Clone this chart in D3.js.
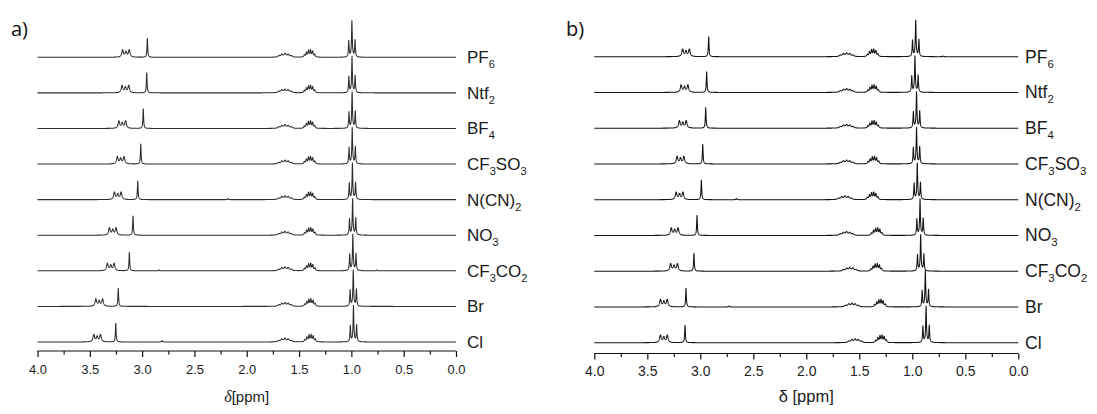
<!DOCTYPE html>
<html>
<head>
<meta charset="utf-8">
<script src="https://cdn.jsdelivr.net/npm/d3@7"></script>
<style>
  body { margin: 0; background: #fff; }
  svg { display: block; }
</style>
</head>
<body>
<svg id="chart" width="1097" height="414"></svg>
<script>
// Anion of each ionic liquid, top trace first
const anions = ["PF6", "Ntf2", "BF4", "CF3SO3", "N(CN)2", "NO3", "CF3CO2", "Br", "Cl"];
const xTicks = [4.0, 3.5, 3.0, 2.5, 2.0, 1.5, 1.0, 0.5, 0.0];
const xMinorTicks = [3.75, 3.25, 2.75, 2.25, 1.75, 1.25, 0.75, 0.25];

// Panel a) chemical shifts (ppm) of each signal group, per anion
const aNCH3 = [2.950, 2.956, 2.989, 3.013, 3.042, 3.087, 3.122, 3.228, 3.252];
const aNCH2 = [3.155, 3.160, 3.190, 3.205, 3.233, 3.281, 3.300, 3.410, 3.430];
const aCH2b = [1.634, 1.634, 1.634, 1.634, 1.634, 1.634, 1.634, 1.634, 1.634];
const aCH2c = [1.400, 1.400, 1.400, 1.400, 1.400, 1.398, 1.398, 1.396, 1.395];
const aCH3  = [0.995, 0.994, 0.993, 0.992, 0.990, 0.988, 0.986, 0.982, 0.980];
const aNCH3Height = [1.00, 1.05, 1.03, 1.05, 0.98, 1.01, 0.96, 0.95, 0.98];
// small extra signals: [trace, ppm, height]
const aMinor = [[4, 2.180, 0.07], [6, 2.840, 0.05], [8, 2.810, 0.08], [6, 0.760, 0.04]];

// Panel b) chemical shifts (ppm)
const bNCH3 = [2.921, 2.940, 2.949, 2.977, 2.990, 3.031, 3.060, 3.135, 3.144];
const bNCH2 = [3.135, 3.149, 3.165, 3.187, 3.196, 3.242, 3.248, 3.344, 3.344];
const bCH2b = [1.620, 1.620, 1.620, 1.620, 1.635, 1.620, 1.590, 1.570, 1.540];
const bCH2c = [1.374, 1.370, 1.370, 1.367, 1.374, 1.336, 1.340, 1.305, 1.295];
const bCH3  = [0.968, 0.975, 0.960, 0.960, 0.953, 0.927, 0.921, 0.877, 0.870];
const bNCH3Height = [1.05, 1.08, 1.08, 1.03, 1.03, 1.06, 0.94, 0.98, 0.92];
const bMinor = [[4, 2.660, 0.07], [7, 2.730, 0.05], [0, 0.710, 0.04]];

// Multiplet line patterns: [offset ppm, relative height, half width]
const NCH2_LINES = [[-0.032, 0.38, 0.009], [0.000, 0.28, 0.009], [0.032, 0.38, 0.009]];
const CH2B_LINES = [[-0.060, 0.07, 0.011], [-0.030, 0.14, 0.011], [0.000, 0.17, 0.011],
                    [0.030, 0.14, 0.011], [0.060, 0.07, 0.011]];
const CH2C_LINES = [[-0.050, 0.13, 0.006], [-0.030, 0.29, 0.006], [-0.010, 0.35, 0.006],
                    [0.010, 0.33, 0.006], [0.030, 0.23, 0.006], [0.050, 0.11, 0.006]];
const CH3_LINES  = [[-0.030, 0.88, 0.004], [0.000, 1.80, 0.004], [0.030, 0.84, 0.004],
                    [0.000, 0.10, 0.014]];

const panels = [
  { tag: "a)", tagX: 11, x0: 37.5, x1: 456, yTop: 57.3, yBot: 342, axisY: 351, unit: 19,
    nch3: aNCH3, nch2: aNCH2, ch2b: aCH2b, ch2c: aCH2c, ch3: aCH3, h: aNCH3Height, minor: aMinor,
    stroke: "#2e2e2e", tickFont: 13, tickPad: 8, labelX: 467, labelFont: 17, titleFont: 15,
    italicDelta: true },
  { tag: "b)", tagX: 566, x0: 594.3, x1: 1018.3, yTop: 56.7, yBot: 342.7, axisY: 353.5, unit: 19,
    nch3: bNCH3, nch2: bNCH2, ch2b: bCH2b, ch2c: bCH2c, ch3: bCH3, h: bNCH3Height, minor: bMinor,
    stroke: "#141414", tickFont: 14, tickPad: 6.5, labelX: 1025, labelFont: 17.5, titleFont: 16.5,
    italicDelta: false }
];

const svg = d3.select("#chart");
const ppmGrid = d3.range(0, 4.0005, 0.001);

function lineList(p, i) {
  const list = [[p.nch3[i], p.h[i], 0.004]];
  NCH2_LINES.forEach(([o, h, w]) => list.push([p.nch2[i] + o, h, w]));
  CH2B_LINES.forEach(([o, h, w]) => list.push([p.ch2b[i] + o, h, w]));
  CH2C_LINES.forEach(([o, h, w]) => list.push([p.ch2c[i] + o, h, w]));
  CH3_LINES.forEach(([o, h, w]) => list.push([p.ch3[i] + o, h, w]));
  p.minor.filter(m => m[0] === i).forEach(m => list.push([m[1], m[2], 0.004]));
  return list;
}

// Lorentzian line sum over the ppm grid
function spectrum(list) {
  return ppmGrid.map(ppm => {
    let s = 0;
    for (const [c, h, g] of list) { const d = ppm - c; s += h * g * g / (d * d + g * g); }
    return [ppm, s];
  });
}

panels.forEach(p => {
  const g = svg.append("g");
  const x = d3.scaleLinear().domain([4.0, 0.0]).range([p.x0, p.x1]);
  const yBase = d3.scalePoint().domain(anions).range([p.yTop, p.yBot]);
  const yInt = d3.scaleLinear().domain([0, 1]).range([0, -p.unit]);

  anions.forEach((name, i) => {
    const base = yBase(name);
    const line = d3.line().x(d => x(d[0])).y(d => base + yInt(d[1]));
    g.append("path")
      .datum(spectrum(lineList(p, i)))
      .attr("d", line)
      .attr("fill", "none")
      .attr("stroke", p.stroke)
      .attr("stroke-width", 1.05)
      .attr("stroke-linejoin", "round");

    // anion label, digits as subscripts
    const t = g.append("text")
      .attr("x", p.labelX).attr("y", base + 6)
      .attr("font-family", "Liberation Sans, Arial, sans-serif")
      .attr("font-size", p.labelFont)
      .attr("fill", "#1a1a1a");
    const parts = name.match(/\d+|\D+/g);
    let shifted = false;
    parts.forEach(part => {
      const isSub = /\d/.test(part);
      const ts = t.append("tspan").text(part);
      if (isSub) { ts.attr("font-size", p.labelFont * 0.65).attr("dy", 5); shifted = true; }
      else if (shifted) { ts.attr("dy", -5); shifted = false; }
    });
  });

  // x axis with major and minor ticks
  const axisG = g.append("g").attr("transform", `translate(0,${p.axisY})`);
  axisG.call(d3.axisBottom(x).tickValues(xTicks).tickSize(6).tickPadding(p.tickPad)
      .tickFormat(d3.format(".1f")))
    .call(a => a.select(".domain").attr("d", `M${p.x0},0H${p.x1}`).attr("stroke", "#111").attr("stroke-width", 1.2))
    .call(a => a.selectAll(".tick line").attr("stroke", "#111").attr("stroke-width", 1.2))
    .call(a => a.selectAll(".tick text")
      .attr("font-family", "Liberation Sans, Arial, sans-serif")
      .attr("font-size", p.tickFont).attr("fill", "#1e1e1e"));
  const minorG = g.append("g").attr("transform", `translate(0,${p.axisY})`);
  minorG.call(d3.axisBottom(x).tickValues(xMinorTicks).tickSize(3.5).tickFormat(""))
    .call(a => a.select(".domain").remove())
    .call(a => a.selectAll(".tick line").attr("stroke", "#111").attr("stroke-width", 1.2));

  // axis title
  const title = g.append("text")
    .attr("x", (p.x0 + p.x1) / 2).attr("y", 402)
    .attr("text-anchor", "middle")
    .attr("font-family", "Liberation Sans, Arial, sans-serif")
    .attr("font-size", p.titleFont)
    .attr("fill", "#1a1a1a");
  if (p.italicDelta) {
    title.append("tspan").attr("font-family", "Liberation Serif, Times New Roman, serif")
      .attr("font-style", "italic").attr("font-size", p.titleFont + 1).text("δ");
    title.append("tspan").text("[ppm]");
  } else {
    title.append("tspan").text("δ [ppm]");
  }

  // panel tag
  g.append("text")
    .attr("x", p.tagX).attr("y", 36)
    .attr("font-family", "Open Sans, sans-serif")
    .attr("font-size", 20)
    .attr("fill", "#111")
    .text(p.tag);
});
</script>
</body>
</html>
